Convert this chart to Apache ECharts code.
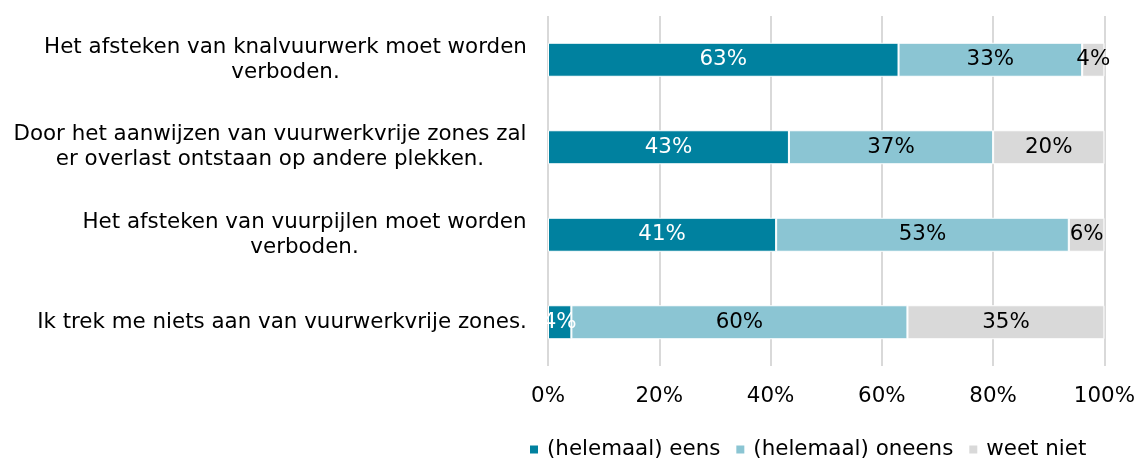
<!DOCTYPE html>
<html>
<head>
<meta charset="utf-8">
<script src="https://cdn.jsdelivr.net/npm/echarts@6/dist/echarts.min.js"></script>
<style>html,body{margin:0;padding:0;background:#fff}#c{width:1138px;height:459px}</style>
</head>
<body>
<div id="c"></div>
<script>
const categories = [
  'Het afsteken van knalvuurwerk moet worden\nverboden.',
  'Door het aanwijzen van vuurwerkvrije zones zal\ner overlast ontstaan op andere plekken.',
  'Het afsteken van vuurpijlen moet worden\nverboden.',
  'Ik trek me niets aan van vuurwerkvrije zones.'
];
const seriesNames = ['(helemaal) eens', '(helemaal) oneens', 'weet niet'];
const eens = [63, 43.3, 41, 4.2];
const oneens = [33, 36.7, 52.6, 60.4];
const weetNiet = [4, 20, 6.4, 35.4];
const tickLabels = ['0%', '20%', '40%', '60%', '80%', '100%'];

const FONT = '"DejaVu Sans", Verdana, sans-serif';
const FS = 21.4;
const colors = ['#00819F', '#8BC5D3', '#D9D9D9'];

const ctx = document.createElement('canvas').getContext('2d');
ctx.font = FS + 'px "DejaVu Sans"';
const rich = {};
categories.forEach((c, i) => {
  const w = Math.max(...c.split('\n').map(l => ctx.measureText(l).width));
  rich['c' + i] = { width: Math.ceil(w), align: 'center', fontSize: FS, fontFamily: FONT, color: '#000', lineHeight: 25 };
});

const chart = echarts.init(document.getElementById('c'), null, { renderer: 'canvas' });
const labelColors = ['#fff', '#000', '#000'];
const data = [eens, oneens, weetNiet];
chart.setOption({
  animation: false,
  color: colors,
  grid: { left: 548, right: 33, top: 16, height: 350, containLabel: false },
  xAxis: {
    type: 'value', min: 0, max: 100, interval: 20,
    axisLine: { show: false }, axisTick: { show: false },
    splitLine: { lineStyle: { color: '#D9D9D9', width: 2 } },
    axisLabel: { margin: 20, fontSize: FS, fontFamily: FONT, color: '#000',
      formatter: (v) => tickLabels[Math.round(v / 20)] }
  },
  yAxis: {
    type: 'category', data: categories, inverse: true,
    axisLine: { show: false }, axisTick: { show: false },
    axisLabel: {
      margin: 21, fontSize: FS, fontFamily: FONT, color: '#000', align: 'right',
      rich: rich,
      formatter: (v, i) => v.split('\n').map(l => '{c' + i + '|' + l + '}').join('\n')
    }
  },
  legend: {
    top: 434, left: 523, icon: 'rect', itemWidth: 10, itemHeight: 10, itemGap: 14,
    textStyle: { fontSize: FS, fontFamily: FONT, color: '#000', padding: [0, 0, 0, 3] },
    data: seriesNames
  },
  series: seriesNames.map((n, k) => ({
    name: n, type: 'bar', stack: 'total', barWidth: 34,
    data: data[k],
    itemStyle: { borderColor: '#fff', borderWidth: 1 },
    label: { show: true, position: 'inside', fontSize: FS, fontFamily: FONT, color: labelColors[k],
      formatter: (p) => Math.round(p.value) + '%' }
  }))
});
</script>
</body>
</html>
